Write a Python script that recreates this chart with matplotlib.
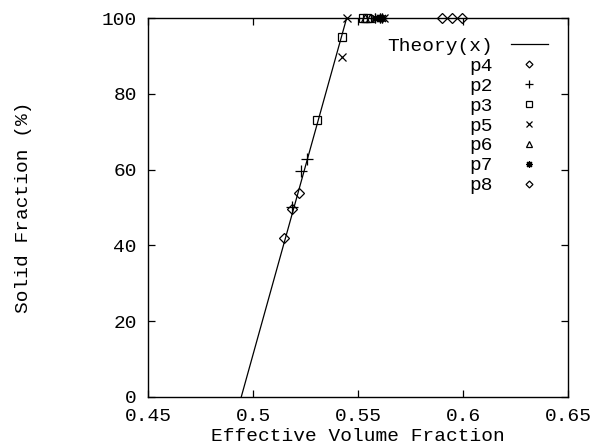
import matplotlib
matplotlib.use("Agg")
import matplotlib.pyplot as plt

# theory line
theory_x = [0.4944, 0.5446]
theory_y = [0.0, 100.0]

# measured series
p4_x = [0.5149, 0.5187, 0.5219]
p4_y = [41.9, 49.6, 53.7]
p2_x = [0.5186, 0.5229, 0.5259]
p2_y = [50.0, 59.7, 62.7]
p3_x = [0.5305, 0.5422, 0.5525, 0.5545]
p3_y = [73.0, 95.1, 100.0, 100.0]
p5_x = [0.5422, 0.5446, 0.5625]
p5_y = [89.8, 100.0, 100.0]
p6_x = [0.5535, 0.5555]
p6_y = [100.0, 100.0]
p7_x = [0.558, 0.5605, 0.5615]
p7_y = [100.0, 100.0, 100.0]
p8_x = [0.5899, 0.5947, 0.5995]
p8_y = [100.0, 100.0, 100.0]

x_ticks = [0.45, 0.5, 0.55, 0.6, 0.65]
x_ticklabels = ["0.45", "0.5", "0.55", "0.6", "0.65"]
y_ticks = [0, 20, 40, 60, 80, 100]

plt.rcParams.update({
    "font.family": ["Liberation Mono", "DejaVu Sans Mono"],
    "font.size": 14,
    "axes.linewidth": 1.0,
})

fig = plt.figure(figsize=(5.92, 4.46), dpi=100)
ax = fig.add_axes([0.25, 0.11, 0.7095, 0.8496])

ax.plot(theory_x, theory_y, color="black", linewidth=0.9, label="Theory(x)")

mk = dict(linestyle="none", color="black", clip_on=False, zorder=3)
ax.plot(p4_x, p4_y, marker="D", markersize=5, fillstyle="none", markeredgewidth=0.9, label="p4", **mk)
ax.plot(p2_x, p2_y, marker="+", markersize=8, markeredgewidth=0.9, label="p2", **mk)
ax.plot(p3_x, p3_y, marker="s", markersize=6, fillstyle="none", markeredgewidth=0.9, label="p3", **mk)
ax.plot(p5_x, p5_y, marker="x", markersize=6, markeredgewidth=0.9, label="p5", **mk)
ax.plot(p6_x, p6_y, marker="^", markersize=6, fillstyle="none", markeredgewidth=0.9, label="p6", **mk)
ax.plot(p7_x, p7_y, marker=(8, 2, 0), markersize=7, markeredgewidth=0.9, label="p7", **mk)
ax.plot(p8_x, p8_y, marker="D", markersize=5, fillstyle="none", markeredgewidth=0.9, label="p8", **mk)

ax.set_xlim(0.45, 0.65)
ax.set_ylim(0, 100)
ax.set_xticks(x_ticks)
ax.set_xticklabels(x_ticklabels)
ax.set_yticks(y_ticks)
ax.tick_params(direction="in", length=5, width=0.9, top=True, right=True, pad=8)

ax.set_xlabel("Effective Volume Fraction", labelpad=2)
ax.set_ylabel("Solid Fraction (%)")
ax.yaxis.set_label_coords(-0.275, 0.5)

ax.legend(loc="upper right", bbox_to_anchor=(0.97, 0.97), frameon=False,
          markerfirst=False, handlelength=1.9, handletextpad=0.9,
          labelspacing=0.12, markerscale=0.7, borderaxespad=0)

fig.savefig("out.png", dpi=100)
